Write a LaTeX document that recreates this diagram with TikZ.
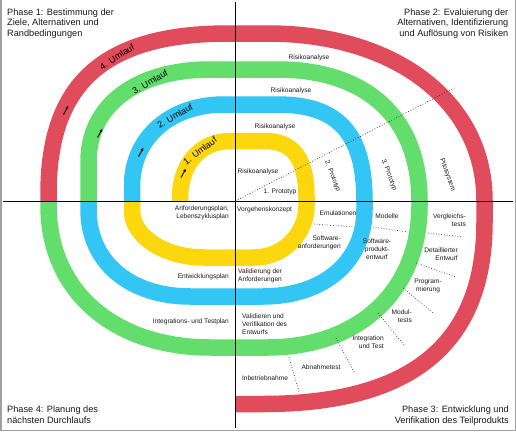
\documentclass[tikz,border=0pt]{standalone}
\usepackage{fontspec}
\setmainfont{Liberation Sans}
\usetikzlibrary{arrows.meta}
\definecolor{cred}{HTML}{E14C5C}
\definecolor{cgreen}{HTML}{63DE6C}
\definecolor{cblue}{HTML}{33C6F4}
\definecolor{cyellow}{HTML}{FDD70E}
\definecolor{frame}{HTML}{A0A0A0}
\begin{document}
\begin{tikzpicture}[x=1pt,y=-1pt,
  band/.style={line width=16.5pt, line cap=butt, line join=round},
  axisline/.style={line width=1pt, black},
  sepline/.style={dotted, line width=0.7pt, black!85},
  lbl/.style={font=\fontsize{6.6}{8}\selectfont, inner sep=0pt, text=black!90},
  phase/.style={font=\fontsize{9.2}{10.8}\selectfont, inner sep=0pt, text=black!90},
  lap/.style={font=\fontsize{9}{10}\selectfont, inner sep=0pt},
  uparr/.style={-{Latex[length=3.5pt,width=3pt]}, line width=0.9pt}]
\useasboundingbox (0,0) rectangle (516,431);
\fill[white] (0,0) rectangle (516,431);
% frame
\draw[frame, line width=1.5pt] (0.75,0) -- (0.75,430.25) -- (515.25,430.25) -- (515.25,0);

% 4. Umlauf (red)
\draw[band, cred] (48.5,201) -- (48.5,193.5)
  .. controls +(0,-0.69*160) and +(-0.69*180,0) .. (228.5,33.5) -- (267.5,33.5)
  .. controls +(0.59*217,0) and +(0,-0.59*167) .. (484.5,200.5) -- (484.5,222)
  .. controls +(0,0.67*182) and +(0.67*222,0) .. (262.5,404) -- (236,404);
% 3. Umlauf (green)
\draw[band, cgreen] (88.5,201) -- (88.5,161.5)
  .. controls +(0,-0.61*92) and +(-0.61*122,0) .. (210.5,69.5) -- (277.5,69.5)
  .. controls +(0.63*142,0) and +(0,-0.63*131.5) .. (419.5,201) -- (419.5,205.5)
  .. controls +(0,0.6*142) and +(0.6*152,0) .. (267.5,347.5) -- (210.5,347.5)
  .. controls +(-0.6*162,0) and +(0,0.6*142) .. (48.5,205.5) -- (48.5,201);
% 2. Umlauf (blue)
\draw[band, cblue] (132,201) -- (132,186.5)
  .. controls +(0,-0.59*82) and +(-0.59*92,0) .. (224,104.5) -- (277.5,104.5)
  .. controls +(0.7*87,0) and +(0,-0.7*96.5) .. (364.5,201) -- (364.5,209.5)
  .. controls +(0,0.6*87) and +(0.6*102,0) .. (262.5,296.5) -- (190.5,296.5)
  .. controls +(-0.6*102,0) and +(0,0.6*87) .. (88.5,209.5) -- (88.5,201);
% 1. Umlauf (yellow)
\draw[band, cyellow] (180,201) -- (180,198)
  .. controls +(0,-0.59*57) and +(-0.59*50,0) .. (230,141) -- (264.5,141)
  .. controls +(0.69*42,0) and +(0,-0.69*57) .. (306.5,198) -- (306.5,205.5)
  .. controls +(0,0.55*52) and +(0.55*52,0) .. (254.5,257.5) -- (204,257.5)
  .. controls +(-0.55*72,0) and +(0,0.55*47) .. (132,210.5) -- (132,201);

% axes
\coordinate (ax1) at (3,201);
\coordinate (ax2) at (513,201);
\coordinate (ay1) at (235,2);
\coordinate (ay2) at (235,428);
\draw[axisline] (ax1) -- (ax2);
\draw[axisline] (ay1) -- (ay2);

% dotted separators
\coordinate (o) at (235.5,201);
\coordinate (d0) at (456,87);
\draw[sepline] (o) -- (d0);
\foreach \a/\b in {{(314,224)}/{(354,227)}, {(373,227)}/{(408,232)}, {(428,233)}/{(463,237)},
  {(416,263)}/{(456,277)}, {(403,288)}/{(433,313)}, {(378,313)}/{(404,345)},
  {(336,338)}/{(354,372)}, {(289,357)}/{(299,392)}}
  \draw[sepline] \a -- \b;

% phases
\node[phase, anchor=north west, align=left] (p1) at (7,8.3) {Phase 1: Bestimmung der\\Ziele, Alternativen und\\Randbedingungen};
\node[phase, anchor=north east, align=right] (p2) at (508.5,8.3) {Phase 2: Evaluierung der\\Alternativen, Identifizierung\\und Aufl\"osung von Risiken};
\node[phase, anchor=north east, align=right] (p3) at (509,405.5) {Phase 3: Entwicklung und\\Verifikation des Teilprodukts};
\node[phase, anchor=north west, align=left] (p4) at (7,405.5) {Phase 4: Planung des\\n\"achsten Durchlaufs};

% lap labels
\node[lap, rotate=33] (u4) at (117,57) {4. Umlauf};
\node[lap, rotate=30] (u3) at (150,82) {3. Umlauf};
\node[lap, rotate=30] (u2) at (175,116) {2. Umlauf};
\node[lap, rotate=38] (u1) at (200,151) {1. Umlauf};
\foreach \x/\y in {66/110, 100/133, 141/152, 183.5/173}
  \draw[uparr] (\x-2.5,\y+4.5) -- (\x+2.5,\y-4.5);

% quadrant 2 labels
\node[lbl] (r1) at (309,58) {Risikoanalyse};
\node[lbl] (r2) at (291,91) {Risikoanalyse};
\node[lbl] (r3) at (275,127) {Risikoanalyse};
\node[lbl] (r4) at (258,172) {Risikoanalyse};
\node[lbl] (pr1) at (280,192) {1. Prototyp};
\node[lbl, rotate=-69] (pr2) at (332.5,176.5) {2. Prototyp};
\node[lbl, rotate=-69] (pr3) at (389,175) {3. Prototyp};
\node[lbl, rotate=-70] (pil) at (447.5,175) {Pilotsystem};

% quadrant 4 labels
\node[lbl, anchor=east, align=right] (q1) at (229,213) {Anforderungsplan,\\Lebenszyklusplan};
\node[lbl, anchor=east] (q2) at (229,277) {Entwicklungsplan};
\node[lbl, anchor=east] (q3) at (229,322) {Integrations- und Testplan};

% quadrant 3 labels
\node[lbl, anchor=west] (v1) at (237,210) {Vorgehenskonzept};
\node[lbl] (em) at (338,213) {Emulationen};
\node[lbl, anchor=east, align=right] (sa) at (341,243) {Software-\\anforderungen};
\node[lbl, anchor=west, align=left] (va) at (238,276) {Validierung der\\Anforderungen};
\node[lbl, anchor=west, align=left] (ve) at (242,324) {Validieren und\\Verifikation des\\Entwurfs};
\node[lbl] (mo) at (387,216) {Modelle};
\node[lbl, align=center] (spe) at (377,249) {Software-\\produkt-\\entwurf};
\node[lbl, anchor=east, align=right] (vt) at (466,220) {Vergleichs-\\tests};
\node[lbl, anchor=east, align=right] (de) at (458,254) {Detaillierter\\Entwurf};
\node[lbl, align=center] (pg) at (428,286) {Program-\\mierung};
\node[lbl, anchor=east, align=right] (mt) at (412,316) {Modul-\\tests};
\node[lbl, anchor=east, align=right] (it) at (384,342.5) {Integration\\und Test};
\node[lbl] (ab) at (321,367) {Abnahmetest};
\node[lbl] (ib) at (265,378) {Inbetriebnahme};
\end{tikzpicture}
\end{document}
